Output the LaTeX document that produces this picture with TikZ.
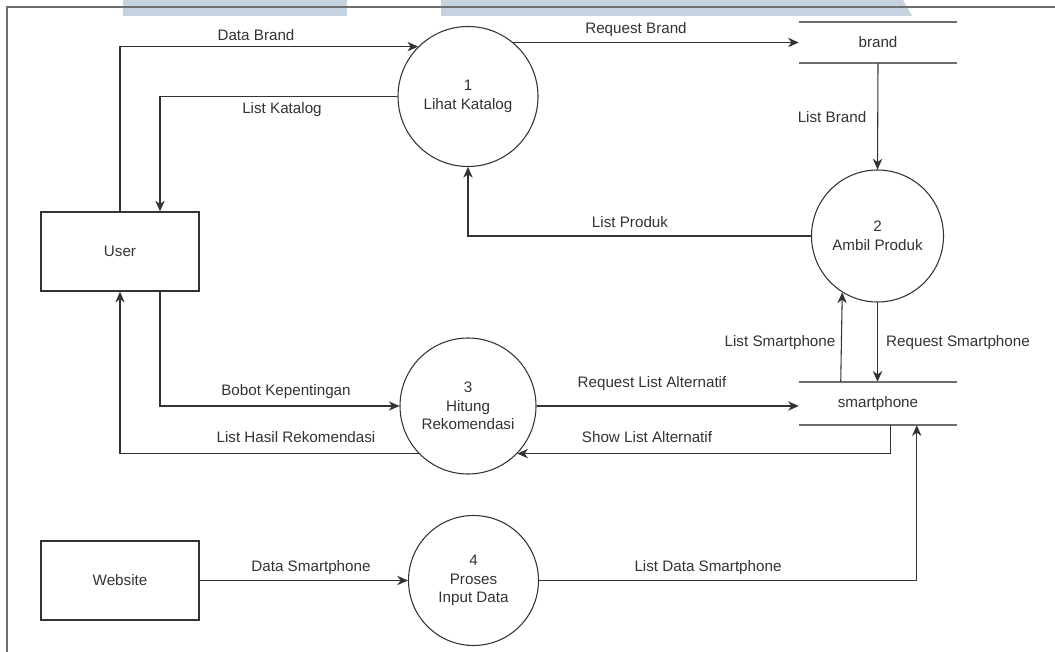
\documentclass[tikz,border=0pt]{standalone}
\usepackage{fontspec}
\setmainfont{Liberation Sans}
\usetikzlibrary{arrows.meta,calc}
\definecolor{ink}{HTML}{333333}
\definecolor{band}{HTML}{C5D3E0}
\definecolor{framec}{HTML}{6E6E6E}
\begin{document}
\begin{tikzpicture}[x=0.75pt,y=-0.75pt,
  every node/.style={font=\fontsize{11.4pt}{14pt}\selectfont, text=ink},
  entity/.style={draw=ink, line width=1pt, minimum width=118.5pt, minimum height=59.25pt, inner sep=0pt},
  proc/.style={draw=ink, line width=0.8pt, circle, align=center, inner sep=0pt},
  store/.style={inner sep=0pt, minimum width=118.5pt},
  storeline/.style={draw=framec, line width=1.2pt},
  flow/.style={draw=ink, line width=0.8pt, -{Stealth[length=8pt,width=7pt,inset=2.5pt]}},
  lbl/.style={inner sep=0pt}
]
\useasboundingbox (0,0) rectangle (1055,652);
% header band and frame
\fill[band] (123,0) rectangle (347,16);
\fill[band] (441,0) -- (903,0) -- (912,16) -- (441,16) -- cycle;
\draw[framec, line width=1.2pt] (1055,7) -- (7,7) -- (7,652);

% entities
\node[entity] (user) at (120,251.5) {User};
\node[entity] (web) at (120,580.5) {Website};

% processes
\node[proc, minimum size=105pt] (c1) at (468,96.5) {1\\Lihat Katalog};
\node[proc, minimum size=99pt] (c2) at (877.5,236) {2\\Ambil Produk};
\node[proc, minimum size=102pt] (c3) at (468,406) {3\\Hitung\\Rekomendasi};
\node[proc, minimum size=97.5pt] (c4) at (473.5,580.5) {4\\Proses\\Input Data};

% data stores
\node[store, minimum height=30.75pt] (brand) at (878,42.5) {brand};
\draw[storeline] (brand.north west) -- (brand.north east);
\draw[storeline] (brand.south west) -- (brand.south east);
\node[store, minimum height=32.25pt] (sp) at (878,403.5) {smartphone};
\draw[storeline] (sp.north west) -- (sp.north east);
\draw[storeline] (sp.south west) -- (sp.south east);

% flows
\draw[flow] (user.north) |- (c1.135);
\draw[flow] (c1.west) -| ($(user.north)+(40,0)$);
\draw[flow] (c1.50) -- (c1.50 -| brand.west);
\draw[flow] (brand.south) -- (c2.north);
\draw[flow] (c2.west) -| (c1.south);
\draw[flow] ($(sp.north west)+(42,0)$) -- (c2.238);
\draw[flow] (c2.south) -- (c2.south |- sp.north);
\draw[flow] ($(user.south)+(40,0)$) |- (c3.west);
\draw[flow] (c3.224) -| (user.south);
\draw[flow] (c3.east) -- (c3.east -| sp.west);
\draw[flow] ($(sp.south west)+(92,0)$) |- (c3.316);
\draw[flow] (web.east) -- (c4.west);
\draw[flow] (c4.east) -| ($(sp.south west)+(118,0)$);

% labels
\node[lbl] (l1) at (256,35) {Data Brand};
\node[lbl] (l2) at (282,110) {List Katalog};
\node[lbl] (l3) at (636,30) {Request Brand};
\node[lbl] (l4) at (832,117) {List Brand};
\node[lbl] (l5) at (630,222) {List Produk};
\node[lbl] (l6) at (780,343) {List Smartphone};
\node[lbl] (l7) at (958,343) {Request Smartphone};
\node[lbl] (l8) at (286,392) {Bobot Kepentingan};
\node[lbl] (l9) at (296,437) {List Hasil Rekomendasi};
\node[lbl] (l10) at (652,384) {Request List Alternatif};
\node[lbl] (l11) at (647,437) {Show List Alternatif};
\node[lbl] (l12) at (311,568) {Data Smartphone};
\node[lbl] (l13) at (708,568) {List Data Smartphone};
\end{tikzpicture}
\end{document}
